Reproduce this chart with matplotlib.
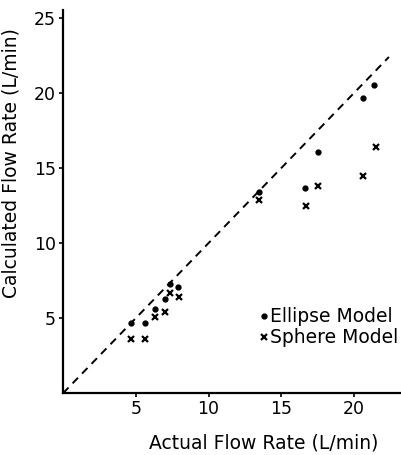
import numpy as np
import matplotlib.pyplot as plt

plt.rcParams['font.family'] = ['DejaVu Sans']

# actual flow rate (L/min) and calculated values for the two models
ellipse_x = [4.7, 5.6, 6.3, 7.0, 7.35, 7.9, 13.5, 16.6, 17.5, 20.6, 21.4]
ellipse_y = [4.7, 4.7, 5.6, 6.3, 7.3, 7.1, 13.4, 13.7, 16.1, 19.7, 20.5]
sphere_x = [4.7, 5.6, 6.3, 7.0, 7.35, 7.95, 13.5, 16.7, 17.5, 20.6, 21.5]
sphere_y = [3.6, 3.6, 5.1, 5.4, 6.7, 6.4, 12.9, 12.5, 13.8, 14.5, 16.4]
ident = [0, 22.4]
ticks = [5, 10, 15, 20, 25]

fig = plt.figure(figsize=(4.02, 4.55), dpi=100)
ax = fig.add_axes([0.157, 0.136, 0.843, 0.841])

ax.plot(ident, ident, 'k--', lw=1.4, dashes=(4, 3))
ax.plot(ellipse_x, ellipse_y, 'o', color='k', ms=3.5, label='Ellipse Model')
ax.plot(sphere_x, sphere_y, 'x', color='k', ms=4, mew=1.6, label='Sphere Model')

ax.set_xlim(0, 23.3)
ax.set_ylim(0, 25.5)
ax.set_xticks(ticks[:4])
ax.set_yticks(ticks)
for s in ['top', 'right']:
    ax.spines[s].set_visible(False)
for s in ['left', 'bottom']:
    ax.spines[s].set_linewidth(1.6)
ax.tick_params(length=3, width=1.2, labelsize=12.5, pad=2)

ax.set_xlabel('Actual Flow Rate (L/min)', fontsize=13.5)
ax.set_ylabel('Calculated Flow Rate (L/min)', fontsize=13.5)
ax.xaxis.set_label_coords(0.593, -0.105)
ax.yaxis.set_label_coords(-0.125, 0.60)

ax.legend(loc='lower right', bbox_to_anchor=(1.01, 0.1), frameon=False,
          fontsize=13.5, handlelength=0.4, handletextpad=0.1,
          labelspacing=0.1, borderaxespad=0)

fig.savefig('out.png', dpi=100)
